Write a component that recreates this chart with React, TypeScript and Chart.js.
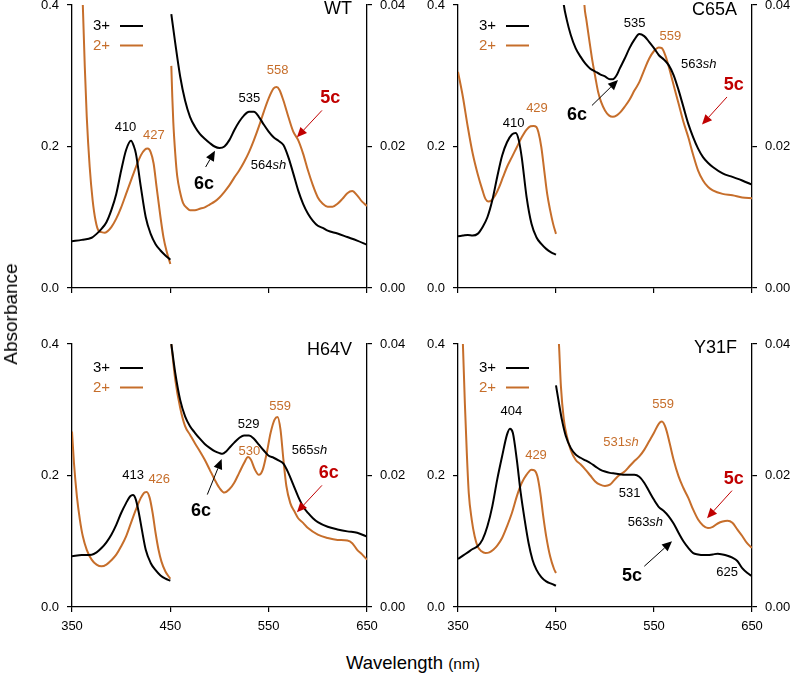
import { useEffect, useRef } from "react";
import { Chart, registerables } from "chart.js";

Chart.register(...registerables);

type Pt = [number, number];

const FONT = '"Liberation Sans", Arial, sans-serif';
const BLACK = "#000000";
const ORANGE = "#c66e2b";
const RED = "#c00000";

// Shared axis ranges and tick values
const X_TICKS = [350, 450, 550, 650];
const SORET_TICKS = [0, 0.2, 0.4];
const VIS_TICKS = [0, 0.02, 0.04];
const LEGEND_LABELS = ["3+", "2+"];

// ---- WT spectra (Soret on left axis, visible region on right axis) ----
const WT_FE3_SORET: Pt[] = [[350,0.066],[360,0.068],[370,0.071],[375,0.0765],[380,0.0836],[385,0.093],[390,0.11],[395,0.133],[400,0.166],[405,0.195],[410,0.208],[413,0.2],[415,0.19],[420,0.143],[425,0.1],[430,0.0765],[435,0.062],[440,0.053],[445,0.046],[450,0.04]];
const WT_FE2_SORET: Pt[] = [[359.5,0.47],[361,0.4],[363,0.313],[365,0.242],[368,0.171],[371,0.124],[374,0.095],[377,0.081],[380,0.079],[383,0.078],[386,0.08],[390,0.086],[395,0.098],[400,0.114],[405,0.133],[410,0.152],[415,0.171],[420,0.1875],[424,0.1955],[427,0.197],[430,0.192],[433,0.176],[436,0.143],[440,0.1],[443,0.072],[446,0.053],[450,0.034]];
const WT_FE3_VIS: Pt[] = [[451,0.0387],[455,0.0346],[460,0.0299],[465,0.0265],[470,0.0242],[475,0.0228],[480,0.0218],[485,0.0211],[490,0.0205],[495,0.02],[500,0.0198],[505,0.02],[510,0.0209],[515,0.0223],[520,0.0235],[525,0.0244],[530,0.0249],[535,0.0249],[540,0.0242],[545,0.0231],[550,0.0221],[555,0.0213],[560,0.0208],[565,0.0202],[570,0.0185],[575,0.0162],[580,0.0138],[585,0.0119],[590,0.0105],[595,0.0095],[600,0.0088],[605,0.0085],[610,0.0081],[620,0.0077],[630,0.0072],[640,0.0067],[650,0.0061]];
const WT_FE2_VIS: Pt[] = [[451,0.0314],[452,0.027],[453,0.0235],[455,0.019],[457,0.0158],[460,0.0135],[463,0.012],[467,0.0113],[470,0.011],[475,0.011],[480,0.0112],[485,0.0114],[490,0.0118],[495,0.0122],[500,0.0128],[505,0.0136],[510,0.0145],[515,0.0156],[520,0.0166],[525,0.0178],[530,0.0192],[535,0.0209],[540,0.0228],[545,0.0249],[550,0.0268],[555,0.0282],[558,0.0284],[561,0.028],[565,0.0265],[570,0.0242],[575,0.0221],[580,0.0209],[585,0.019],[590,0.0166],[595,0.0145],[600,0.0128],[605,0.0119],[610,0.0115],[615,0.0115],[620,0.0119],[625,0.0126],[630,0.0134],[635,0.0137],[640,0.0131],[645,0.0122],[650,0.0116]];

// ---- C65A spectra ----
const C65A_FE3_SORET: Pt[] = [[350,0.0732],[355,0.0741],[360,0.075],[365,0.0742],[370,0.0765],[375,0.086],[380,0.1],[385,0.124],[390,0.157],[395,0.187],[400,0.206],[405,0.217],[409,0.219],[412,0.209],[415,0.185],[420,0.1285],[425,0.0907],[430,0.0718],[435,0.0623],[440,0.0553],[445,0.0505],[450,0.0472]];
const C65A_FE2_SORET: Pt[] = [[350,0.3055],[355,0.27],[360,0.2276],[365,0.19],[370,0.1615],[375,0.138],[378,0.126],[381,0.1223],[384,0.1237],[388,0.131],[392,0.1426],[396,0.157],[400,0.171],[405,0.185],[410,0.199],[415,0.213],[420,0.224],[424,0.2286],[427,0.229],[430,0.2276],[432,0.2205],[435,0.1993],[438,0.166],[441,0.133],[444,0.11],[447,0.091],[450,0.0765]];
const C65A_FE3_VIS: Pt[] = [[456,0.0425],[458,0.04],[461,0.0379],[465,0.0358],[470,0.0339],[475,0.0327],[480,0.0317],[485,0.031],[490,0.0306],[495,0.0302],[500,0.0299],[505,0.0295],[508,0.0295],[512,0.0301],[515,0.031],[520,0.0324],[525,0.0339],[530,0.0351],[535,0.0359],[540,0.0356],[545,0.0348],[550,0.0339],[555,0.0329],[560,0.0323],[565,0.0315],[570,0.0301],[575,0.028],[580,0.0256],[585,0.0232],[590,0.0213],[595,0.0197],[600,0.0185],[605,0.0177],[610,0.0171],[620,0.0162],[630,0.0157],[640,0.0152],[650,0.0146]];
const C65A_FE2_VIS: Pt[] = [[477.5,0.045],[479,0.04],[481,0.0379],[484,0.035],[487,0.0322],[490,0.0299],[493,0.0277],[496,0.0263],[500,0.0251],[504,0.0244],[508,0.0242],[512,0.0244],[516,0.0249],[520,0.0256],[525,0.0266],[530,0.0279],[535,0.0291],[540,0.0308],[545,0.0324],[550,0.0335],[555,0.034],[558,0.0339],[562,0.0327],[565,0.0313],[570,0.0287],[575,0.0261],[580,0.0235],[585,0.0213],[590,0.0188],[595,0.0166],[600,0.0152],[605,0.0143],[610,0.0138],[620,0.0133],[630,0.0131],[640,0.0128],[650,0.0127]];

// ---- H64V spectra ----
const H64V_FE3_SORET: Pt[] = [[350,0.0771],[360,0.0791],[370,0.0796],[375,0.0831],[380,0.0897],[385,0.0984],[390,0.11],[395,0.125],[400,0.143],[405,0.158],[409,0.168],[412,0.1703],[415,0.163],[418,0.143],[421,0.118],[425,0.087],[430,0.067],[435,0.056],[440,0.048],[445,0.043],[450,0.04]];
const H64V_FE2_SORET: Pt[] = [[350,0.267],[352,0.219],[355,0.168],[358,0.133],[361,0.1075],[365,0.087],[370,0.072],[375,0.0644],[380,0.0618],[385,0.0644],[390,0.071],[395,0.0796],[400,0.0923],[405,0.1075],[410,0.128],[415,0.148],[420,0.166],[424,0.1744],[426,0.175],[429,0.166],[432,0.143],[435,0.1125],[438,0.087],[441,0.069],[445,0.054],[450,0.043]];
const H64V_FE3_VIS: Pt[] = [[451,0.04],[455,0.0356],[460,0.0315],[465,0.029],[470,0.0275],[475,0.0265],[480,0.0256],[485,0.0248],[490,0.0242],[495,0.0237],[500,0.0234],[503,0.0233],[507,0.0237],[510,0.0242],[515,0.025],[520,0.0257],[525,0.0261],[530,0.0261],[535,0.0256],[540,0.0247],[545,0.0238],[550,0.023],[555,0.0227],[560,0.0223],[565,0.0218],[570,0.0204],[575,0.0186],[580,0.0168],[585,0.0153],[590,0.0143],[595,0.0135],[600,0.0129],[610,0.0122],[620,0.0118],[630,0.0115],[640,0.0113],[650,0.0107]];
const H64V_FE2_VIS: Pt[] = [[451,0.04],[455,0.0346],[460,0.0303],[465,0.0275],[470,0.0262],[475,0.0249],[480,0.0237],[485,0.0224],[490,0.0209],[495,0.0194],[500,0.0181],[505,0.0174],[510,0.0179],[515,0.0189],[520,0.0204],[525,0.0219],[529,0.0228],[532,0.0224],[536,0.0209],[540,0.0201],[544,0.0209],[548,0.0234],[552,0.0265],[556,0.0285],[559,0.0289],[562,0.027],[565,0.0224],[568,0.0184],[572,0.0158],[576,0.0146],[580,0.0135],[585,0.0128],[590,0.012],[600,0.011],[610,0.0105],[620,0.0102],[630,0.0101],[635,0.0097],[640,0.0087],[645,0.008],[650,0.0072]];

// ---- Y31F spectra ----
const Y31F_FE3_SORET: Pt[] = [[350,0.073],[355,0.0781],[360,0.0831],[365,0.0882],[370,0.0923],[375,0.1024],[380,0.1227],[385,0.1531],[390,0.1937],[395,0.2292],[400,0.2621],[403,0.2712],[406,0.2646],[410,0.2241],[414,0.1734],[418,0.1328],[422,0.0973],[426,0.072],[430,0.0568],[435,0.0456],[440,0.039],[445,0.0355],[450,0.0324]];
const Y31F_FE2_SORET: Pt[] = [[353.5,0.46],[355,0.4],[357,0.31],[359,0.234],[361,0.173],[364,0.133],[367,0.1075],[370,0.0923],[374,0.0847],[378,0.0821],[382,0.0831],[386,0.0872],[390,0.0933],[395,0.1049],[400,0.1227],[405,0.143],[410,0.1683],[415,0.1886],[420,0.2013],[425,0.2089],[428,0.2079],[431,0.1987],[434,0.1734],[437,0.1379],[440,0.1075],[444,0.0771],[448,0.0578],[450,0.0517]];
const Y31F_FE3_VIS: Pt[] = [[450,0.0337],[453,0.031],[456,0.0285],[460,0.026],[465,0.0242],[470,0.0232],[475,0.0227],[480,0.0223],[485,0.0219],[490,0.0214],[495,0.0209],[500,0.0206],[505,0.0204],[510,0.0203],[515,0.0202],[520,0.0201],[525,0.0201],[530,0.0201],[535,0.0198],[540,0.0189],[545,0.0176],[550,0.0163],[555,0.0152],[560,0.0146],[565,0.0138],[570,0.0127],[575,0.0113],[580,0.01],[585,0.009],[590,0.0082],[595,0.008],[600,0.0079],[605,0.0079],[610,0.008],[615,0.0081],[620,0.008],[625,0.0078],[630,0.0075],[635,0.007],[640,0.0059],[645,0.0052],[650,0.0047]];
const Y31F_FE2_VIS: Pt[] = [[451.5,0.043],[453,0.04],[455,0.0336],[458,0.0285],[461,0.026],[465,0.0239],[470,0.0224],[475,0.0217],[480,0.0209],[485,0.02],[490,0.0191],[495,0.0186],[500,0.0184],[505,0.0186],[510,0.0194],[515,0.0201],[520,0.0206],[525,0.0214],[530,0.0222],[535,0.0229],[540,0.0239],[545,0.0252],[550,0.0265],[555,0.0279],[558,0.0282],[562,0.0272],[566,0.0249],[570,0.0224],[575,0.0199],[580,0.0181],[585,0.0166],[590,0.0148],[595,0.0133],[600,0.0124],[605,0.012],[610,0.0122],[615,0.0127],[620,0.013],[625,0.0131],[630,0.0128],[635,0.0118],[640,0.0108],[645,0.0097],[650,0.009]];

type AxisId = "y" | "y1";

interface Note {
  x: number;
  y: number;
  axis: AxisId;
  text: string;
  color: string;
  sh?: boolean;
  bold?: boolean;
}

interface Arrow {
  from: Pt;
  to: Pt;
  axis: AxisId;
  color: string;
}

interface Box {
  left: number;
  top: number;
  width: number;
  height: number;
}

interface Area {
  left: number;
  top: number;
  right: number;
  bottom: number;
}

interface Panel {
  title: string;
  fe3Soret: Pt[];
  fe2Soret: Pt[];
  fe3Vis: Pt[];
  fe2Vis: Pt[];
  notes: Note[];
  arrows: Arrow[];
  box: Box;
  area: Area;
  showXLabels: boolean;
  legendTop: number;
  titleDy: number;
}

const num = (x: number, y: number, axis: AxisId, text: string, color = BLACK, sh = false): Note => ({ x, y, axis, text, color, sh });
const tag = (x: number, y: number, text: string, color: string): Note => ({ x, y, axis: "y1", text, color, bold: true });

const PANELS: Panel[] = [
  {
    title: "WT",
    fe3Soret: WT_FE3_SORET,
    fe2Soret: WT_FE2_SORET,
    fe3Vis: WT_FE3_VIS,
    fe2Vis: WT_FE2_VIS,
    notes: [
      num(404.4, 0.2276, "y", "410"),
      num(433.2, 0.2158, "y", "427", ORANGE),
      num(530.4, 0.0268, "y1", "535"),
      num(559, 0.0308, "y1", "558", ORANGE),
      num(549.8, 0.0173, "y1", "564", BLACK, true),
      tag(484.2, 0.0147, "6c", BLACK),
      tag(612.7, 0.0268, "5c", RED),
    ],
    arrows: [
      { from: [485.9, 0.0171], to: [495.4, 0.0194], axis: "y1", color: BLACK },
      { from: [604.2, 0.0251], to: [578.7, 0.0213], axis: "y1", color: RED },
    ],
    box: { left: 0, top: 0, width: 412, height: 300 },
    area: { left: 72, top: 5, right: 367, bottom: 288 },
    showXLabels: false,
    legendTop: 21,
    titleDy: 4,
  },
  {
    title: "C65A",
    fe3Soret: C65A_FE3_SORET,
    fe2Soret: C65A_FE2_SORET,
    fe3Vis: C65A_FE3_VIS,
    fe2Vis: C65A_FE2_VIS,
    notes: [
      num(406.8, 0.2333, "y", "410"),
      num(430.6, 0.2545, "y", "429", ORANGE),
      num(530.3, 0.0374, "y1", "535"),
      num(566.7, 0.0356, "y1", "559", ORANGE),
      num(595.6, 0.0316, "y1", "563", BLACK, true),
      tag(471.4, 0.0244, "6c", BLACK),
      tag(631.3, 0.0287, "5c", RED),
    ],
    arrows: [
      { from: [486.7, 0.0258], to: [513.3, 0.0294], axis: "y1", color: BLACK },
      { from: [624.5, 0.027], to: [599, 0.0231], axis: "y1", color: RED },
    ],
    box: { left: 386, top: 0, width: 404, height: 300 },
    area: { left: 458, top: 5, right: 752, bottom: 288 },
    showXLabels: false,
    legendTop: 21,
    titleDy: 5,
  },
  {
    title: "H64V",
    fe3Soret: H64V_FE3_SORET,
    fe2Soret: H64V_FE2_SORET,
    fe3Vis: H64V_FE3_VIS,
    fe2Vis: H64V_FE2_VIS,
    notes: [
      num(412.2, 0.2003, "y", "413"),
      num(438.7, 0.1937, "y", "426", ORANGE),
      num(529.7, 0.0277, "y1", "529"),
      num(530.4, 0.0237, "y1", "530", ORANGE),
      num(561.7, 0.0305, "y1", "559", ORANGE),
      num(591.6, 0.0238, "y1", "565", BLACK, true),
      tag(481.2, 0.0146, "6c", BLACK),
      tag(611, 0.0204, "6c", RED),
    ],
    arrows: [
      { from: [487.6, 0.0171], to: [502.2, 0.0225], axis: "y1", color: BLACK },
      { from: [604.2, 0.0185], to: [578.7, 0.0144], axis: "y1", color: RED },
    ],
    box: { left: 0, top: 318, width: 412, height: 327 },
    area: { left: 72, top: 344, right: 367, bottom: 607 },
    showXLabels: true,
    legendTop: 24,
    titleDy: 6,
  },
  {
    title: "Y31F",
    fe3Soret: Y31F_FE3_SORET,
    fe2Soret: Y31F_FE2_SORET,
    fe3Vis: Y31F_FE3_VIS,
    fe2Vis: Y31F_FE2_VIS,
    notes: [
      num(404.4, 0.2976, "y", "404"),
      num(429.6, 0.2302, "y", "429", ORANGE),
      num(559.2, 0.0308, "y1", "559", ORANGE),
      num(516.3, 0.0251, "y1", "531", ORANGE, true),
      num(525.2, 0.0173, "y1", "531"),
      num(541.2, 0.0128, "y1", "563", BLACK, true),
      num(624.5, 0.0052, "y1", "625"),
      tag(631.3, 0.0195, "5c", RED),
      tag(527.6, 0.0047, "5c", BLACK),
    ],
    arrows: [
      { from: [629.6, 0.0177], to: [604.1, 0.0135], axis: "y1", color: RED },
      { from: [540.1, 0.0062], to: [568.4, 0.01], axis: "y1", color: BLACK },
    ],
    box: { left: 386, top: 318, width: 404, height: 327 },
    area: { left: 458, top: 344, right: 752, bottom: 607 },
    showXLabels: true,
    legendTop: 24,
    titleDy: 4.5,
  },
];

function drawArrow(ctx: CanvasRenderingContext2D, x1: number, y1: number, x2: number, y2: number, color: string) {
  const ang = Math.atan2(y2 - y1, x2 - x1);
  const head = 10;
  const half = 4.5;
  const bx = x2 - head * Math.cos(ang);
  const by = y2 - head * Math.sin(ang);
  ctx.strokeStyle = color;
  ctx.fillStyle = color;
  ctx.lineWidth = 1;
  ctx.beginPath();
  ctx.moveTo(x1, y1);
  ctx.lineTo(bx, by);
  ctx.stroke();
  ctx.beginPath();
  ctx.moveTo(x2, y2);
  ctx.lineTo(bx + half * Math.sin(ang), by - half * Math.cos(ang));
  ctx.lineTo(bx - half * Math.sin(ang), by + half * Math.cos(ang));
  ctx.closePath();
  ctx.fill();
}

function drawNote(ctx: CanvasRenderingContext2D, n: Note, px: number, py: number) {
  const size = n.bold ? 18 : 13;
  const main = `${n.bold ? "bold " : ""}${size}px ${FONT}`;
  const ital = `italic ${size}px ${FONT}`;
  ctx.font = main;
  const w1 = ctx.measureText(n.text).width;
  let w2 = 0;
  if (n.sh) {
    ctx.font = ital;
    w2 = ctx.measureText("sh").width;
  }
  const start = px - (w1 + w2) / 2;
  ctx.fillStyle = n.color;
  ctx.textAlign = "left";
  ctx.textBaseline = "middle";
  ctx.font = main;
  ctx.fillText(n.text, start, py);
  if (n.sh) {
    ctx.font = ital;
    ctx.fillText("sh", start + w1, py);
  }
}

function decorPlugin(panel: Panel) {
  return {
    id: "panelDecor",
    afterDatasetsDraw(chart: any) {
      const ctx: CanvasRenderingContext2D = chart.ctx;
      const { left, top, right } = chart.chartArea;
      const xs = chart.scales.x;
      ctx.save();

      // legend
      ctx.font = `15px ${FONT}`;
      ctx.textAlign = "left";
      ctx.textBaseline = "middle";
      LEGEND_LABELS.forEach((label, i) => {
        const color = i === 0 ? BLACK : ORANGE;
        const y = top + panel.legendTop + i * 19.5;
        ctx.fillStyle = color;
        ctx.fillText(label, left + 21, y);
        ctx.strokeStyle = color;
        ctx.lineWidth = 2;
        ctx.beginPath();
        ctx.moveTo(left + 48, y);
        ctx.lineTo(left + 71, y);
        ctx.stroke();
      });

      // panel title
      ctx.font = `18px ${FONT}`;
      ctx.textAlign = "right";
      ctx.fillStyle = BLACK;
      ctx.fillText(panel.title, right - 15, top + panel.titleDy);

      // arrows
      panel.arrows.forEach((a) => {
        const ys = chart.scales[a.axis];
        drawArrow(
          ctx,
          xs.getPixelForValue(a.from[0]),
          ys.getPixelForValue(a.from[1]),
          xs.getPixelForValue(a.to[0]),
          ys.getPixelForValue(a.to[1]),
          a.color
        );
      });

      // peak labels
      panel.notes.forEach((n) => {
        const ys = chart.scales[n.axis];
        drawNote(ctx, n, xs.getPixelForValue(n.x), ys.getPixelForValue(n.y));
      });
      ctx.restore();
    },
  };
}

const series = (pts: Pt[], color: string, axis: AxisId) => ({
  data: pts.map(([x, y]) => ({ x, y })),
  borderColor: color,
  backgroundColor: color,
  borderWidth: 2,
  pointRadius: 0,
  fill: false,
  cubicInterpolationMode: "monotone" as const,
  yAxisID: axis,
});

function axisGrid() {
  return {
    display: true,
    drawOnChartArea: false,
    drawTicks: true,
    tickLength: 5,
    color: BLACK,
    lineWidth: 1.2,
  };
}

function buildConfig(panel: Panel): any {
  const { box, area } = panel;
  const tickFont = { family: FONT, size: 13 };
  return {
    type: "line",
    data: {
      datasets: [
        series(panel.fe3Soret, BLACK, "y"),
        series(panel.fe2Soret, ORANGE, "y"),
        series(panel.fe3Vis, BLACK, "y1"),
        series(panel.fe2Vis, ORANGE, "y1"),
      ],
    },
    options: {
      responsive: false,
      animation: false,
      devicePixelRatio: 1,
      events: [],
      layout: { padding: { top: area.top - box.top, left: 0, right: 0, bottom: 0 } },
      plugins: { legend: { display: false }, tooltip: { enabled: false } },
      scales: {
        x: {
          type: "linear",
          min: X_TICKS[0],
          max: X_TICKS[X_TICKS.length - 1],
          afterBuildTicks: (s: any) => {
            s.ticks = X_TICKS.map((v) => ({ value: v }));
          },
          ticks: {
            display: panel.showXLabels,
            color: BLACK,
            font: tickFont,
            padding: 7,
            maxRotation: 0,
            autoSkip: false,
          },
          grid: axisGrid(),
          border: { display: true, color: BLACK, width: 1.3 },
          afterFit: (s: any) => {
            s.height = box.top + box.height - area.bottom;
            s.paddingLeft = 0;
            s.paddingRight = 0;
          },
        },
        y: {
          type: "linear",
          position: "left",
          min: SORET_TICKS[0],
          max: SORET_TICKS[SORET_TICKS.length - 1],
          afterBuildTicks: (s: any) => {
            s.ticks = SORET_TICKS.map((v) => ({ value: v }));
          },
          ticks: {
            color: BLACK,
            font: tickFont,
            padding: 8,
            callback: (v: number) => Number(v).toFixed(1),
          },
          grid: axisGrid(),
          border: { display: true, color: BLACK, width: 1.3 },
          afterFit: (s: any) => {
            s.width = area.left - box.left;
            s.paddingTop = 0;
            s.paddingBottom = 0;
          },
        },
        y1: {
          type: "linear",
          position: "right",
          min: VIS_TICKS[0],
          max: VIS_TICKS[VIS_TICKS.length - 1],
          afterBuildTicks: (s: any) => {
            s.ticks = VIS_TICKS.map((v) => ({ value: v }));
          },
          ticks: {
            color: BLACK,
            font: tickFont,
            padding: 8,
            callback: (v: number) => Number(v).toFixed(2),
          },
          grid: axisGrid(),
          border: { display: true, color: BLACK, width: 1.3 },
          afterFit: (s: any) => {
            s.width = box.left + box.width - area.right;
            s.paddingTop = 0;
            s.paddingBottom = 0;
          },
        },
      },
    },
    plugins: [decorPlugin(panel)],
  };
}

function SpectrumPanel({ panel }: { panel: Panel }) {
  const ref = useRef<HTMLCanvasElement>(null);
  useEffect(() => {
    if (!ref.current) return;
    const chart = new Chart(ref.current, buildConfig(panel));
    return () => chart.destroy();
  }, [panel]);
  const { box } = panel;
  return (
    <canvas
      ref={ref}
      width={box.width}
      height={box.height}
      style={{ position: "absolute", left: box.left, top: box.top, width: box.width, height: box.height }}
    />
  );
}

export default function App() {
  return (
    <div
      style={{
        position: "absolute",
        left: 0,
        top: 0,
        width: 790,
        height: 682,
        background: "#ffffff",
        overflow: "hidden",
        fontFamily: FONT,
      }}
    >
      {PANELS.map((p) => (
        <SpectrumPanel key={p.title} panel={p} />
      ))}
      <div
        style={{
          position: "absolute",
          left: 11,
          top: 314,
          transform: "translate(-50%, -50%) rotate(-90deg)",
          fontSize: 19,
          color: BLACK,
          whiteSpace: "nowrap",
        }}
      >
        Absorbance
      </div>
      <div
        style={{
          position: "absolute",
          left: 346,
          top: 652,
          fontSize: 18.5,
          color: BLACK,
          whiteSpace: "nowrap",
          lineHeight: "22px",
        }}
      >
        Wavelength <span style={{ fontSize: 15.5 }}>(nm)</span>
      </div>
    </div>
  );
}
